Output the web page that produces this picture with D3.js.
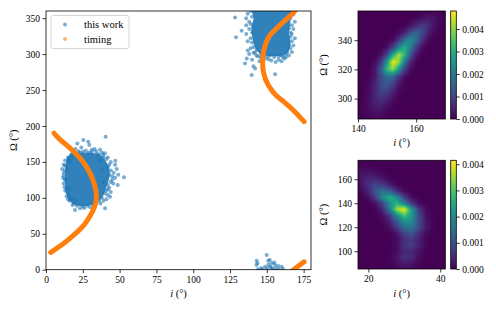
<!DOCTYPE html>
<html>
<head>
<meta charset="utf-8">
<script src="https://cdn.jsdelivr.net/npm/d3@7"></script>
<style>
  body { margin: 0; background: #fff; }
  svg { display: block; font-family: "Liberation Serif", "DejaVu Serif", serif; }
</style>
</head>
<body>
<svg id="fig" width="496" height="310"></svg>
<script>
// ---- data (i, Omega in degrees) ----

// dense cores of the "this work" clouds (outline of the solid region)
const coreLow = [[15,158],[20,162],[27,163],[33,162],[38,158],[41,150],[43,140],[43,128],[41,115],[39,104],[35,94],[29,89],[22,89],[17,94],[14,104],[13,118],[13,135],[13.5,148]];
const coreHigh = [[140,364],[141,350],[139.5,338],[140,325],[141.5,312],[144,303],[149,298],[156,297],[162,299],[165,305],[166,318],[165,330],[166,345],[165,364]];

// individual "this work" points around the cores
const pointsLow = [[40.5,185],[25.4,180.5],[21.3,175.5],[28.7,178],[31.1,167],[36.7,167],[17.5,157],[38.9,160],[29.4,173.5],
  [46.9,146],[53,128.6],[49.1,132],[45.7,120],[40.1,85.4],[19.7,83],[23.1,85.4],[43.5,101.6],[47.1,151.7],[48.7,118],
  [15.8,152.7],[12.9,124.8],[14.1,111],[12,135],[11.5,128],[13,145],[12.5,115],[14,102],[16,96],[18,90],[26,86],[30,87],
  [33,90],[37,92],[41,98],[44,108],[45,125],[46,135],[44,150],[42,156],[40,162],[34,165],[27,166],[22,165],[18,162],
  [15,156],[20,168],[33,168],[48,140],[47,128],[42,112],[39,96],[15,98],[11,140],[24,170],[35,161],
  [13,152],[17,160],[19,163],[23,163],[25,164],[29,163],[31,164],[36,160],[38,163],[39,157],[41,154],[43,146],[42,143],
  [44,138],[43,132],[45,130],[44,122],[42,118],[43,114],[41,110],[40,106],[42,104],[38,100],[36,96],[34,93],[32,91],
  [28,89],[25,88],[21,89],[19,92],[17,99],[16,101],[15,106],[13,110],[14,114],[12,120],[13,126],[12,131],[13,138],
  [14,142],[12,146],[16,150],[21,158],[37,152],[38,140],[39,122],[17,112],[20,97],[35,100],[36,153]];
const pointsHigh = [[128.4,351],[129.1,323.4],[132.9,332.6],[135.2,287],[136.4,294],[139.7,271],[142,280],[140.9,283],
  [155.6,272],[137,305],[136,340],[137,356],[138,345],[136,328],[137,318],[139,308],[141,302],[144,297],[148,293],[153,291],
  [158,292],[162,294],[165,298],[167,303],[168,312],[169,322],[168,335],[169,345],[168,355],[140,292],[145,290],[166,330],
  [136,350],[138,300],[160,290],[156,289],
  [139,360],[140,352],[139,342],[138,335],[140,330],[139,322],[140,316],[141,310],[143,306],[142,302],[146,300],[147,297],
  [150,296],[152,298],[155,296],[158,297],[160,298],[163,300],[164,303],[166,308],[165,313],[167,318],[166,324],[167,328],
  [165,336],[167,340],[166,350],[167,358],[165,361],[143,298],[151,293],[146,295],[161,296],[163,296]];
const pointsWrap = [[149.9,20.5],[143.1,12.5],[143.6,9],[143,6.5],[151,12.5],[148.8,4.2],[153.3,9],[155.6,6.5],[157.8,5],
  [160.1,4.2],[152.2,4.2],[153,3],[150,1.5],[154,1],[156,2],[146,2],[158,1],[152,13.5],[151,7],[155,10],[147,1],[144,0.5],[161,1]];

// "timing" arcs
const timingLow = [[5.4,190],[9,182],[13,175],[17,168],[21,160],[24.5,152],[27.5,143],[30,134],[32,124],[33.5,114],[34.2,104],
  [34,95],[32.5,85],[30,75],[26.5,64],[22,54],[17,45],[11,35],[3.2,24]];
const timingHigh = [[172,370],[169,360],[163,348],[156.7,336],[152,326],[149.9,318],[148,306],[147.2,295],[147.2,285],
  [147.6,276],[149.3,264],[152.2,253],[156,243],[161.2,234.4],[168,222],[175.3,206]];
const timingWrap = [[167.5,-1],[171.5,5],[175.3,11]];

// density maps, values in units of 1e-4
const topI = [140,142,144,146,148,150,152,154,156,158,160,162,164,166,168,170];
const topO = [360,355,350,345,340,335,330,325,320,315,310,305,300,295,290,285];
const topD = [
  [0,0,0,0,0,0,0,0,0,0,0,0.1,0.2,0.4,0.4,0.2],
  [0,0,0,0,0,0,0,0,0,0.1,0.6,1.8,2.9,2.5,1.1,0.3],
  [0,0,0,0,0,0,0,0.1,0.4,2,5.4,8,6.2,2.5,0.5,0.1],
  [0,0,0,0,0,0,0.1,0.9,4.4,11.6,16,11.6,4.4,0.9,0.1,0],
  [0,0,0,0,0,0.2,1.3,6.7,17.4,24,17.4,6.7,1.3,0.2,0,0],
  [0,0,0,0,0.2,1.7,8.3,21.8,30,21.8,8.3,1.7,0.2,0,0,0],
  [0,0,0,0.2,1.9,10.2,28.5,41.9,32.4,13.2,2.9,0.3,0,0,0,0],
  [0,0,0,1.3,8,26.2,47,41.1,19.7,5,0.6,0,0,0,0,0],
  [0,0,0.4,3.2,14.2,32.6,39.5,25.2,8.5,1.5,0.1,0,0,0,0,0],
  [0,0,0.6,3.3,10.5,17.5,15.4,7.1,1.7,0.2,0,0,0,0,0,0],
  [0,0.2,1.1,5,11.4,13.8,8.8,3,0.5,0,0,0,0,0,0,0],
  [0,0.3,1.6,5.3,9.5,8.9,4.4,1.2,0.2,0,0,0,0,0,0,0],
  [0,0.4,1.9,5.1,7,5.1,1.9,0.4,0,0,0,0,0,0,0,0],
  [0,0.5,1.8,3.6,3.8,2.1,0.6,0.1,0,0,0,0,0,0,0,0],
  [0,0.4,1.2,2,1.7,0.8,0.2,0,0,0,0,0,0,0,0,0],
  [0,0.2,0.6,0.8,0.6,0.2,0,0,0,0,0,0,0,0,0,0]
];
const botI = [16,18,20,22,24,26,28,30,32,34,36,38,40,42];
const botO = [180,175,170,165,160,155,150,145,140,135,130,125,120,115,110,105,100,95,90,85];
const botD = [
  [0.1,0.1,0,0,0,0,0,0,0,0,0,0,0,0],
  [0.3,0.3,0.15,0,0,0,0,0,0,0,0,0,0,0],
  [0.7,1,0.7,0.3,0.1,0,0,0,0,0,0,0,0,0],
  [0.9,2.1,2.5,1.5,0.5,0.1,0,0,0,0,0,0,0,0],
  [0.7,2.4,4.6,4.6,2.4,0.7,0.1,0,0,0,0,0,0,0],
  [0.3,1.8,5.5,8.8,7.5,3.4,0.8,0.1,0,0,0,0,0,0],
  [0.1,0.7,3.9,10.9,16,12.4,5,1.1,0.1,0,0,0,0,0],
  [0,0.2,1.5,7.5,19.6,27,19.6,7.5,1.5,0.2,0,0,0,0],
  [0,0,0.2,1.8,8.5,20.8,26.9,18.3,6.6,1.2,0.1,0,0,0],
  [0,0,0,0.5,4.3,17.2,35.8,41,22.9,7,1.2,0.1,0,0],
  [0,0,0,0.1,1.4,7.3,20.4,29.9,23.2,9.5,2,0.2,0,0],
  [0,0,0,0,0.6,3.5,11.7,20.9,19.6,9.7,2.5,0.4,0,0],
  [0,0,0,0,0.2,1.8,7.1,14.9,16.4,9.5,2.9,0.4,0,0],
  [0,0,0,0,0,0.2,2.2,8,10.8,5.4,1,0.1,0,0],
  [0,0,0,0,0,0.1,1.3,4.9,6.9,3.6,0.7,0,0,0],
  [0,0,0,0,0,0.1,1.6,5.8,7.8,3.9,0.7,0,0,0],
  [0,0,0,0,0,0.2,1.4,4.2,4.6,1.9,0.3,0,0,0],
  [0,0,0,0,0,0.4,2.4,5.6,4.9,1.5,0.2,0,0,0],
  [0,0,0,0,0,0.4,1.6,3,2.1,0.5,0,0,0,0],
  [0,0,0,0,0,0.1,0.5,1,0.7,0.2,0,0,0,0]
];

const mainXTicks = [0,25,50,75,100,125,150,175];
const mainYTicks = [0,50,100,150,200,250,300,350];
const cbTicks = [0,0.001,0.002,0.003,0.004];

const blue = "#1f77b4", orange = "#ff7f0e";
const svg = d3.select("#fig");

// --- helpers ---
function styleAxis(g, size) {
  g.select(".domain").remove();
  g.selectAll(".tick line").attr("stroke", "#000").attr("stroke-width", 0.8);
  g.selectAll(".tick text").attr("fill", "#000").style("font-size", size + "px")
    .style("font-family", "'Liberation Serif', serif");
}
function frame(x, y) {
  const [x0, x1] = x.range(), [y0, y1] = y.range();
  svg.append("rect").attr("x", x0).attr("y", y1).attr("width", x1 - x0).attr("height", y0 - y1)
    .attr("fill", "none").attr("stroke", "#000").attr("stroke-width", 0.8);
}
function xLabel(cx, y) {
  const t = svg.append("text").attr("x", cx).attr("y", y).attr("text-anchor", "middle").style("font-size", "10.5px");
  t.append("tspan").attr("font-style", "italic").text("i");
  t.append("tspan").text(" (°)");
}
function yLabel(x, cy) {
  svg.append("text").attr("transform", `translate(${x},${cy}) rotate(-90)`)
    .attr("text-anchor", "middle").style("font-size", "10.5px").text("Ω (°)");
}

// ---- main scatter panel ----
const x = d3.scaleLinear().domain([0, 180]).range([46, 311]);
const y = d3.scaleLinear().domain([0, 360]).range([269.7, 11]);

svg.append("clipPath").attr("id", "clipMain").append("rect")
  .attr("x", 46).attr("y", 11).attr("width", 265).attr("height", 258.7);
const plot = svg.append("g").attr("clip-path", "url(#clipMain)");

const area = d3.line().x(d => x(d[0])).y(d => y(d[1])).curve(d3.curveCatmullRomClosed);
plot.selectAll("path.core").data([coreLow, coreHigh]).join("path")
  .attr("class", "core").attr("d", area)
  .attr("fill", blue).attr("fill-opacity", 0.92);

plot.selectAll("circle.pt").data(pointsLow.concat(pointsHigh, pointsWrap)).join("circle")
  .attr("class", "pt")
  .attr("cx", d => x(d[0])).attr("cy", d => y(d[1])).attr("r", 2)
  .attr("fill", blue).attr("fill-opacity", 0.6);

const arc = d3.line().x(d => x(d[0])).y(d => y(d[1])).curve(d3.curveCatmullRom);
plot.selectAll("path.timing").data([timingLow, timingHigh, timingWrap]).join("path")
  .attr("class", "timing").attr("d", arc)
  .attr("fill", "none").attr("stroke", orange).attr("stroke-width", 5)
  .attr("stroke-linecap", "round").attr("stroke-linejoin", "round");

svg.append("g").attr("transform", "translate(0,269.7)")
  .call(d3.axisBottom(x).tickValues(mainXTicks).tickSize(3.5).tickPadding(3))
  .call(g => styleAxis(g, 9.5));
svg.append("g").attr("transform", "translate(46,0)")
  .call(d3.axisLeft(y).tickValues(mainYTicks).tickSize(3.5).tickPadding(2.5))
  .call(g => styleAxis(g, 9.5));
frame(x, y);
xLabel(178.5, 297);
yLabel(17, 140.3);

// legend
const leg = svg.append("g");
leg.append("rect").attr("x", 51).attr("y", 15.5).attr("width", 78).attr("height", 33).attr("rx", 2)
  .attr("fill", "#fff").attr("fill-opacity", 0.8).attr("stroke", "#ccc").attr("stroke-width", 0.8);
[["this work", blue, 24.5], ["timing", orange, 39]].forEach(([name, c, ly]) => {
  leg.append("circle").attr("cx", 65).attr("cy", ly).attr("r", 2).attr("fill", c).attr("fill-opacity", 0.6);
  leg.append("text").attr("x", 84).attr("y", ly + 3.5).style("font-size", "10.5px").text(name);
});

// ---- density panels ----
function heatPanel(xs, ys, iVals, oVals, grid, vmax, xt, yt) {
  const [x0, x1] = xs.range(), [yb, yt0] = ys.range();
  const ss = 2, w = Math.round((x1 - x0) * ss), h = Math.round((yb - yt0) * ss);
  const canvas = document.createElement("canvas");
  canvas.width = w; canvas.height = h;
  const ctx = canvas.getContext("2d");
  const img = ctx.createImageData(w, h);
  const di = iVals[1] - iVals[0], dO = oVals[0] - oVals[1];
  for (let py = 0; py < h; py++) {
    const o = ys.invert(yt0 + (py + 0.5) / ss);
    const r = Math.max(0, Math.min(oVals.length - 1.0001, (oVals[0] - o) / dO));
    const r0 = Math.floor(r), fr = r - r0;
    for (let px = 0; px < w; px++) {
      const iv = xs.invert(x0 + (px + 0.5) / ss);
      const c = Math.max(0, Math.min(iVals.length - 1.0001, (iv - iVals[0]) / di));
      const c0 = Math.floor(c), fc = c - c0;
      const v = grid[r0][c0] * (1 - fr) * (1 - fc) + grid[r0][c0 + 1] * (1 - fr) * fc +
                grid[r0 + 1][c0] * fr * (1 - fc) + grid[r0 + 1][c0 + 1] * fr * fc;
      const col = d3.rgb(d3.interpolateViridis(Math.min(1, v / vmax)));
      const k = (py * w + px) * 4;
      img.data[k] = col.r; img.data[k + 1] = col.g; img.data[k + 2] = col.b; img.data[k + 3] = 255;
    }
  }
  ctx.putImageData(img, 0, 0);
  svg.append("image").attr("href", canvas.toDataURL())
    .attr("x", x0).attr("y", yt0).attr("width", x1 - x0).attr("height", yb - yt0)
    .attr("preserveAspectRatio", "none");

  svg.append("g").attr("transform", `translate(0,${yb})`)
    .call(d3.axisBottom(xs).tickValues(xt).tickSize(3.5).tickPadding(3))
    .call(g => styleAxis(g, 9.5));
  svg.append("g").attr("transform", `translate(${x0},0)`)
    .call(d3.axisLeft(ys).tickValues(yt).tickSize(3.5).tickPadding(2.5))
    .call(g => styleAxis(g, 9.5));
  frame(xs, ys);

  // colorbar
  const cb = d3.scaleLinear().domain([0, vmax * 1e-4]).range([yb, yt0]);
  const gid = "grad" + Math.round(yb);
  const grad = svg.append("defs").append("linearGradient").attr("id", gid)
    .attr("x1", 0).attr("y1", 1).attr("x2", 0).attr("y2", 0);
  d3.range(0, 1.0001, 0.1).forEach(t => grad.append("stop").attr("offset", t).attr("stop-color", d3.interpolateViridis(t)));
  svg.append("rect").attr("x", 450.7).attr("y", yt0).attr("width", 5.6).attr("height", yb - yt0)
    .attr("fill", `url(#${gid})`).attr("stroke", "#000").attr("stroke-width", 0.8);
  svg.append("g").attr("transform", "translate(456.3,0)")
    .call(d3.axisRight(cb).tickValues(cbTicks).tickFormat(d3.format(".3f")).tickSize(3.5).tickPadding(2.5))
    .call(g => styleAxis(g, 9.5));
}

const xTop = d3.scaleLinear().domain([140, 170]).range([358, 445.3]);
const yTop = d3.scaleLinear().domain([286, 360]).range([119, 11]);
heatPanel(xTop, yTop, topI, topO, topD, 48, [140, 160], [300, 320, 340]);
xLabel(401.7, 146);
yLabel(327, 65);

const xBot = d3.scaleLinear().domain([17.14, 41.39]).range([358, 445.3]);
const yBot = d3.scaleLinear().domain([85.25, 175.8]).range([269, 160.3]);
heatPanel(xBot, yBot, botI, botO, botD, 41.5, [20, 40], [100, 120, 140, 160]);
xLabel(401.7, 297);
yLabel(327, 214.6);
</script>
</body>
</html>
